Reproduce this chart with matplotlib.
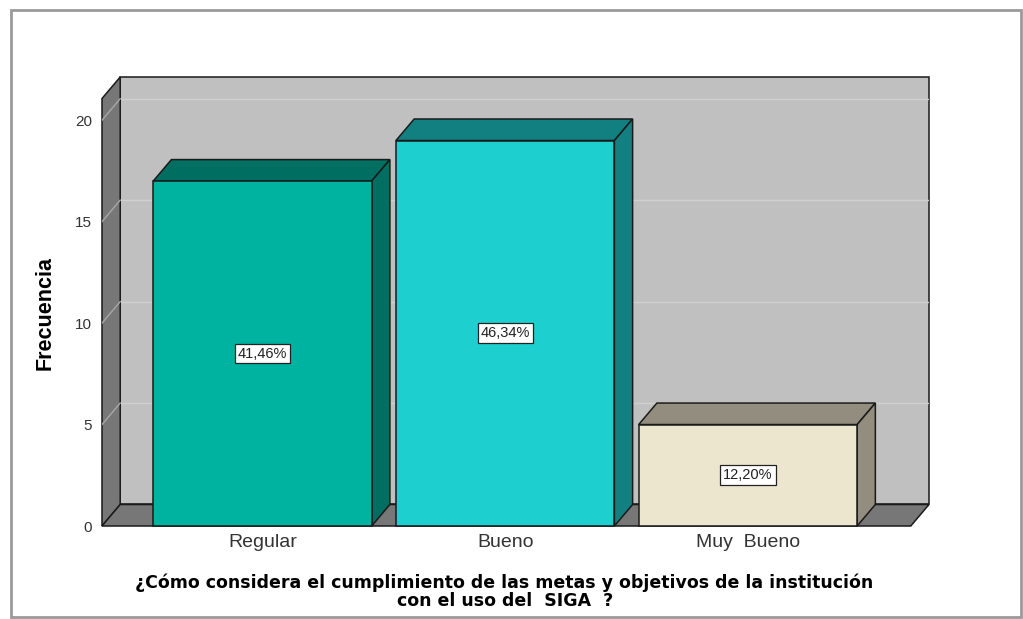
import matplotlib.pyplot as plt
from matplotlib.patches import Polygon, Rectangle

categories = ["Regular", "Bueno", "Muy  Bueno"]
counts = [17, 19, 5]
percent_labels = ["41,46%", "46,34%", "12,20%"]
yticks = [0, 5, 10, 15, 20]

front_colors = ["#00b3a0", "#1ecfcf", "#ede6cf"]
shade_colors = ["#006e60", "#128080", "#928d7e"]

# 3D depth offsets in data units
dx, dy = 0.075, 1.06
bar_w = 0.9
x_left, x_right = -0.661, 2.671
y_top = 21.07

fig = plt.figure(figsize=(10.23, 6.19), dpi=100)
ax = fig.add_axes([102 / 1023, 93 / 619, 827 / 1023, 449 / 619])
ax.set_xlim(x_left, x_right + dx)
ax.set_ylim(0, y_top + dy)
for s in ax.spines.values():
    s.set_visible(False)

edge = dict(edgecolor="#1a1a1a", linewidth=1.1, clip_on=False)
# back wall
ax.add_patch(Polygon([(x_left + dx, dy), (x_right + dx, dy), (x_right + dx, y_top + dy),
                      (x_left + dx, y_top + dy)], closed=True, facecolor="#c0c0c0", zorder=0, **edge))
# left wall
ax.add_patch(Polygon([(x_left, 0), (x_left + dx, dy), (x_left + dx, y_top + dy), (x_left, y_top)],
                     closed=True, facecolor="#777777", zorder=1, **edge))
# floor
ax.add_patch(Polygon([(x_left, 0), (x_right, 0), (x_right + dx, dy), (x_left + dx, dy)],
                     closed=True, facecolor="#777777", zorder=1, **edge))
# grid lines
for v in yticks[1:]:
    ax.plot([x_left + dx, x_right + dx], [v + dy, v + dy], color="#d0d0d0", lw=1, zorder=0.5)
    ax.plot([x_left, x_left + dx], [v, v + dy], color="#a8a8a8", lw=1, zorder=1.5)

xs = list(range(len(categories)))
ax.bar(xs, counts, width=bar_w, color=front_colors, zorder=3, **edge)
for x, v, c, lab in zip(xs, counts, shade_colors, percent_labels):
    l, r = x - bar_w / 2, x + bar_w / 2
    ax.add_patch(Polygon([(l, v), (r, v), (r + dx, v + dy), (l + dx, v + dy)],
                         closed=True, facecolor=c, zorder=2.5, **edge))
    ax.add_patch(Polygon([(r, 0), (r + dx, dy), (r + dx, v + dy), (r, v)],
                         closed=True, facecolor=c, zorder=2.5, **edge))
    ax.text(x, v / 2, lab, ha="center", va="center", fontsize=10.5, family="Liberation Sans",
            color="#222222", zorder=5,
            bbox=dict(boxstyle="square,pad=0.2", facecolor="white", edgecolor="#222222", lw=0.9))

ax.set_yticks(yticks)
ax.set_yticklabels([str(t) for t in yticks], fontsize=11, color="#333333", family="Liberation Sans")
ax.set_xticks(xs)
ax.set_xticklabels(categories, fontsize=14, color="#333333", family="Liberation Sans")
ax.tick_params(axis="y", length=0, pad=7)
ax.tick_params(axis="x", length=0, pad=6)

fig.text(45 / 1023, 1 - 313 / 619, "Frecuencia", rotation=90, ha="center", va="center",
         fontsize=15.5, fontweight="bold", family="Liberation Sans")
fig.text(504 / 1023, 1 - 588 / 619,
         "¿Cómo considera el cumplimiento de las metas y objetivos de la institución",
         ha="center", va="baseline", fontsize=12.5, fontweight="bold")
fig.text(505 / 1023, 1 - 606 / 619, "con el uso del  SIGA  ?",
         ha="center", va="baseline", fontsize=12.5, fontweight="bold")

fig.patches.append(Rectangle((11 / 1023, 2 / 619), 1010 / 1023, 607 / 619, transform=fig.transFigure,
                             fill=False, edgecolor="#9a9a9a", lw=2))

fig.savefig("out.png", dpi=100)
